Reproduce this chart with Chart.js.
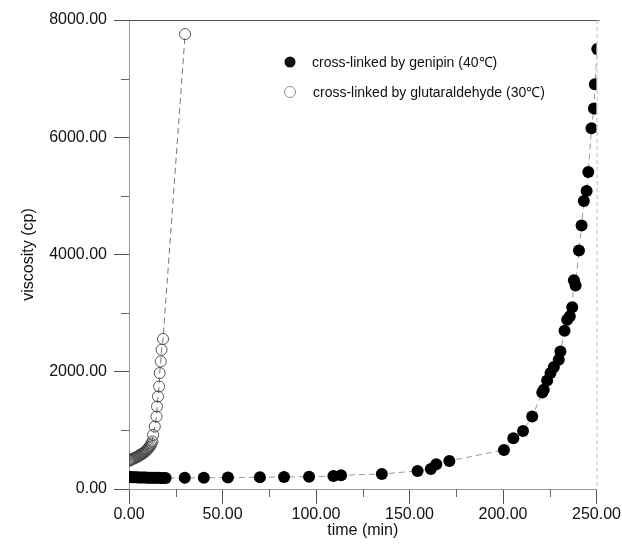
<!DOCTYPE html>
<html>
<head>
<meta charset="utf-8">
<script src="https://cdn.jsdelivr.net/npm/chart.js@4.4.0/dist/chart.umd.min.js"></script>
<style>
  html, body { margin: 0; padding: 0; background: #fff; }
  #wrap { width: 622px; height: 549px; }
</style>
</head>
<body>
<div id="wrap"><canvas id="chart"></canvas></div>
<script>
// genipin (40℃)
const genipinTime = [0, 1, 2, 3, 4, 5, 6, 7, 8, 9, 10, 11, 12, 13, 14, 15, 16, 17, 18, 19.6,
    29.8, 40, 52.9, 70, 82.9, 96.3, 109.3, 113.4, 135.2, 154.3, 161.4, 164.3, 171.3,
    200.5, 205.5, 210.7, 215.6, 221, 221.8, 223.6, 225.4, 227.2, 229.8, 230.7, 232.9,
    234.3, 235.7, 237, 237.9, 238.8, 240.6, 242, 243.2, 244.7, 245.6, 247.3, 248.6, 249.1, 250.4];
const genipinVisc = [205, 205, 200, 200, 200, 198, 198, 195, 195, 195, 193, 193, 192, 192, 190, 190, 190, 188, 188, 188,
    190, 192, 195, 200, 205, 210, 222, 234, 256, 308, 342, 422, 479,
    667, 867, 991, 1236, 1646, 1692, 1851, 1977, 2080, 2205, 2347, 2701,
    2889, 2946, 3100, 3561, 3470, 4070, 4496, 4911, 5082, 5407, 6154, 6491, 6906, 7504];

// glutaraldehyde (30℃)
const glutTime = [0, 0.5, 1, 1.5, 2, 2.5, 3, 3.5, 4, 4.5, 5, 5.5, 6, 6.5, 7, 7.5, 8, 8.5, 9, 9.5,
    10, 10.5, 11, 11.5, 12, 12.5, 12.9, 13.8, 14.7, 15, 15.5, 16.1, 16.4, 17, 17.4, 18.2, 30];
const glutVisc = [480, 490, 500, 505, 515, 520, 530, 535, 545, 550, 560, 570, 580, 590, 600, 610, 620, 635, 650, 665,
    680, 700, 720, 745, 775, 810, 923, 1065, 1236, 1407, 1578, 1749, 1978, 2176, 2376, 2559, 7760];

const legendLabels = ['cross-linked by genipin (40℃)', 'cross-linked by glutaraldehyde (30℃)'];
const xMinorTicks = [25, 75, 125, 175, 225];
const yMinorTicks = [1000, 3000, 5000, 7000];

const FONT = '"Liberation Sans", Arial, sans-serif';

function toPoints(xs, ys) {
    return xs.map((x, i) => ({ x: x, y: ys[i] }));
}

// frame, minor ticks and legend drawn on top
const extras = {
    id: 'extras',
    afterDraw(chart) {
        const { ctx, chartArea: a, scales: { x, y } } = chart;
        ctx.save();
        // top line and right side
        ctx.strokeStyle = '#555';
        ctx.lineWidth = 1;
        ctx.beginPath();
        ctx.moveTo(a.left - 14, a.top + 0.5);
        ctx.lineTo(a.right + 3, a.top + 0.5);
        ctx.stroke();
        ctx.strokeStyle = '#bbb';
        ctx.setLineDash([4, 3]);
        ctx.beginPath();
        ctx.moveTo(a.right + 0.5, a.top);
        ctx.lineTo(a.right + 0.5, a.bottom);
        ctx.stroke();
        ctx.setLineDash([]);

        // minor ticks
        ctx.strokeStyle = '#666';
        xMinorTicks.forEach(v => {
            const px = Math.round(x.getPixelForValue(v)) + 0.5;
            ctx.beginPath();
            ctx.moveTo(px, a.bottom);
            ctx.lineTo(px, a.bottom + 8);
            ctx.stroke();
        });
        yMinorTicks.forEach(v => {
            const py = Math.round(y.getPixelForValue(v)) + 0.5;
            ctx.beginPath();
            ctx.moveTo(a.left - 8, py);
            ctx.lineTo(a.left, py);
            ctx.stroke();
        });

        // legend
        ctx.font = '14px ' + FONT;
        ctx.textBaseline = 'middle';
        ctx.fillStyle = '#111';
        ctx.beginPath();
        ctx.arc(290, 62, 5.5, 0, Math.PI * 2);
        ctx.fill();
        ctx.fillText(legendLabels[0], 312, 63);
        ctx.strokeStyle = '#777';
        ctx.lineWidth = 0.8;
        ctx.beginPath();
        ctx.arc(290, 92, 5.5, 0, Math.PI * 2);
        ctx.stroke();
        ctx.fillText(legendLabels[1], 313, 93);
        ctx.restore();
    }
};

new Chart(document.getElementById('chart'), {
    type: 'scatter',
    data: {
        datasets: [
            {
                label: legendLabels[0],
                data: toPoints(genipinTime, genipinVisc),
                showLine: true,
                borderColor: '#999',
                borderWidth: 1,
                borderDash: [6, 4],
                pointRadius: 6,
                pointBackgroundColor: '#000',
                pointBorderColor: '#000',
                pointBorderWidth: 0
            },
            {
                label: legendLabels[1],
                data: toPoints(glutTime, glutVisc),
                showLine: true,
                borderColor: '#777',
                borderWidth: 1,
                borderDash: [6, 4],
                pointRadius: 5.5,
                pointBackgroundColor: 'rgba(255,255,255,0)',
                pointBorderColor: '#444',
                pointBorderWidth: 0.9
            }
        ]
    },
    options: {
        responsive: true,
        maintainAspectRatio: false,
        animation: false,
        layout: { padding: { top: 20, right: 25, left: 0, bottom: 0 } },
        plugins: {
            legend: { display: false },
            tooltip: { enabled: false }
        },
        scales: {
            x: {
                type: 'linear',
                min: 0,
                max: 250,
                afterFit(scale) { scale.height = 60; },
                ticks: {
                    stepSize: 50,
                    padding: 1,
                    color: '#111',
                    font: { family: FONT, size: 16 },
                    callback: v => v.toFixed(2)
                },
                grid: { drawOnChartArea: false, drawTicks: true, tickLength: 15, color: '#555' },
                border: { display: true, color: '#999' },
                title: {
                    display: true,
                    text: 'time (min)',
                    color: '#111',
                    font: { family: FONT, size: 16 },
                    padding: { top: 0, bottom: 9 }
                }
            },
            y: {
                type: 'linear',
                min: 0,
                max: 8000,
                afterFit(scale) { scale.width = 129; },
                ticks: {
                    stepSize: 2000,
                    padding: 7,
                    color: '#111',
                    font: { family: FONT, size: 16 },
                    callback: v => v.toFixed(2)
                },
                grid: { drawOnChartArea: false, drawTicks: true, tickLength: 15, color: '#555' },
                border: { display: true, color: '#999' },
                title: {
                    display: true,
                    text: 'viscosity (cp)',
                    color: '#111',
                    font: { family: FONT, size: 16 },
                    padding: { top: 19, bottom: 0 }
                }
            }
        }
    },
    plugins: [extras]
});
</script>
</body>
</html>
